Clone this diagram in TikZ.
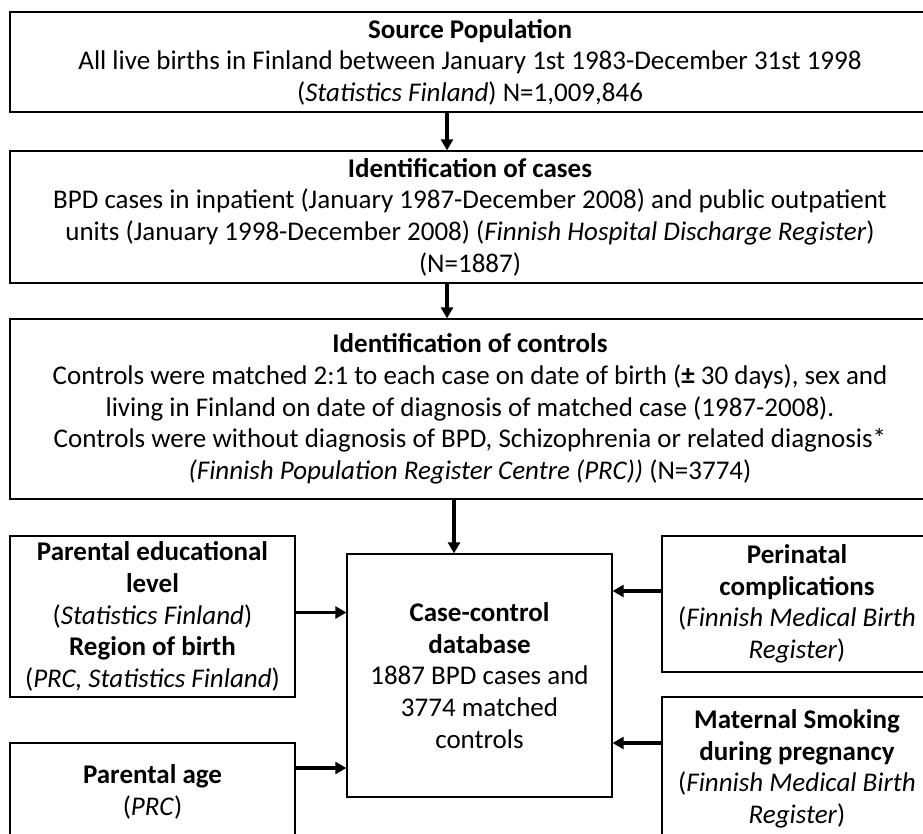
\documentclass[tikz,border=0pt]{standalone}
\usepackage{fontspec}
\setmainfont{Carlito}
\usetikzlibrary{shapes,arrows,arrows.meta,positioning}

\tikzset{
  box/.style={draw, line width=1.3pt, rectangle, align=center, inner sep=0pt,
    font=\fontsize{27}{31.6}\selectfont},
  arr/.style={-{Triangle[length=11pt,width=12pt]}, line width=3.4pt},
}

\begin{document}
\begin{tikzpicture}[x=1pt,y=-1pt]
    \useasboundingbox (0,0) rectangle (923,833);
    \clip (0,0) rectangle (923,833);
    % flow of the cohort
    \node[box, minimum width=920pt, minimum height=100pt] (src) at (470,62)
      {\textbf{Source Population}\\
       All live births in Finland between January 1st 1983-December 31st 1998\\
       (\textit{Statistics Finland}) N=1,009,846};
    \node[box, minimum width=920pt, minimum height=132pt] (cases) at (470,217)
      {\textbf{Identification of cases}\\
       BPD cases in inpatient (January 1987-December 2008) and public outpatient\\
       units (January 1998-December 2008) (\textit{Finnish Hospital Discharge Register})\\
       (N=1887)};
    \node[box, minimum width=920pt, minimum height=180pt] (ctrl) at (470,409)
      {\textbf{Identification of controls}\\
       Controls were matched 2:1 to each case on date of birth (\textbf{±} 30 days), sex and\\
       living in Finland on date of diagnosis of matched case (1987-2008).\\
       Controls were without diagnosis of BPD, Schizophrenia or related diagnosis*\\
       \textit{(Finnish Population Register Centre (PRC))} (N=3774)};
    % database and its sources
    \node[box, minimum width=265pt, minimum height=243pt] (db) at (479.5,675.5)
      {\textbf{Case-control}\\ \textbf{database}\\ 1887 BPD cases and\\ 3774 matched\\ controls};
    \node[box, minimum width=285pt, minimum height=161pt] (edu) at (152.5,616.5)
      {\textbf{Parental educational}\\ \textbf{level}\\ (\textit{Statistics Finland})\\
       \textbf{Region of birth}\\ (\textit{PRC, Statistics Finland})};
    \node[box, minimum width=285pt, minimum height=98pt] (age) at (152.5,792)
      {\textbf{Parental age}\\ (\textit{PRC})};
    \node[box, minimum width=270pt, minimum height=136pt] (peri) at (797,604)
      {\textbf{Perinatal}\\ \textbf{complications}\\ (\textit{Finnish Medical Birth}\\ \textit{Register})};
    \node[box, minimum width=270pt, minimum height=144pt] (smok) at (797,769)
      {\textbf{Maternal Smoking}\\ \textbf{during pregnancy}\\ (\textit{Finnish Medical Birth}\\ \textit{Register})};

    \draw[arr] ([xshift=-23pt]src.south) -- ([xshift=-23pt]cases.north);
    \draw[arr] ([xshift=-23pt]cases.south) -- ([xshift=-23pt]ctrl.north);
    \draw[arr] ([xshift=-16pt]ctrl.south) -- ([xshift=-16pt]ctrl.south |- db.north);
    \draw[arr] ([yshift=4pt]edu.east) -- ([yshift=4pt]edu.east -| db.west);
    \draw[arr] ([yshift=24pt]age.east) -- ([yshift=24pt]age.east -| db.west);
    \draw[arr] ([yshift=13pt]peri.west) -- ([yshift=13pt]peri.west -| db.east);
    \draw[arr] ([yshift=26pt]smok.west) -- ([yshift=26pt]smok.west -| db.east);
\end{tikzpicture}
\end{document}
